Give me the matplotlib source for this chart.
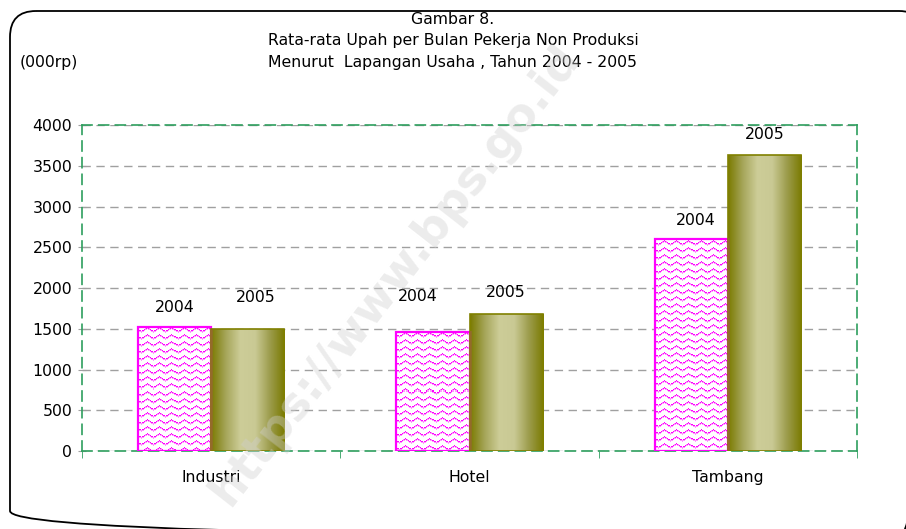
import numpy as np
import matplotlib
matplotlib.use('Agg')
import matplotlib.pyplot as plt
from matplotlib.patches import Rectangle, FancyBboxPatch
from matplotlib.colors import LinearSegmentedColormap

# data (000 rp)
categories = ['Industri', 'Hotel', 'Tambang']
years = ['2004', '2005']
upah_2004 = [1525, 1465, 2600]
upah_2005 = [1497, 1680, 3635]

plt.rcParams['font.family'] = ['DejaVu Sans']

fig = plt.figure(figsize=(9.06, 5.29), dpi=100)

# background axes in pixel units for the rounded frame
bg = fig.add_axes([0, 0, 1, 1], zorder=-1)
bg.set_xlim(0, 906)
bg.set_ylim(529, 0)
bg.axis('off')
bg.add_patch(FancyBboxPatch((10, 11), 915, 526,
                            boxstyle='round,pad=0,rounding_size=26',
                            fill=False, edgecolor='black', linewidth=1.3))

ax = fig.add_axes([0.0905, 0.1474, 0.8555, 0.6163])

x = np.arange(len(categories))
width = 0.283

ax.set_xlim(-0.5, 2.5)
ax.set_ylim(0, 4000)

olive = LinearSegmentedColormap.from_list(
    'olive', ['#7a7a00', '#a6a65a', '#cdcd98', '#c9c994', '#9c9c4c', '#7a7a00'])
grad = np.linspace(0, 1, 256).reshape(1, -1)

px_per_unit = 326 / 4000


def wave_texture(h_px, w_px):
    img = np.ones((h_px, w_px, 3))
    cols = np.arange(w_px)
    offs = np.round(1.6 * np.sin(2 * np.pi * cols / 12)).astype(int)
    for r0 in range(3, h_px, 7):
        for c in cols:
            r = r0 + offs[c]
            if 0 <= r < h_px:
                img[r, c] = [1.0, 0.0, 1.0] if c % 4 != 3 else [1.0, 0.55, 1.0]
            if 0 <= r + 1 < h_px:
                img[r + 1, c] = [1.0, 0.6, 1.0]
    return img


for i in range(len(categories)):
    # 2004 bar: white with magenta wave pattern
    x0 = x[i] - width
    v = upah_2004[i]
    rect = Rectangle((x0, 0), width, v, facecolor='white', edgecolor='none', zorder=3)
    ax.add_patch(rect)
    tex = wave_texture(max(int(round(v * px_per_unit)), 2), 73)
    im = ax.imshow(tex, extent=(x0, x0 + width, 0, v), aspect='auto',
                   interpolation='nearest', zorder=3, origin='upper')
    im.set_clip_path(rect)
    ax.add_patch(Rectangle((x0, 0), width, v, facecolor='none', edgecolor='#ff00ff',
                           linewidth=1.6, zorder=4))

    # 2005 bar: olive cylinder-like gradient
    x1 = x[i]
    v = upah_2005[i]
    rect2 = Rectangle((x1, 0), width, v, facecolor='none', edgecolor='#808000',
                      linewidth=1.2, zorder=4)
    ax.add_patch(rect2)
    im2 = ax.imshow(grad, extent=(x1, x1 + width, 0, v), aspect='auto',
                    cmap=olive, zorder=3)
    im2.set_clip_path(rect2)

ax.set_xlim(-0.5, 2.5)
ax.set_ylim(0, 4000)

# data labels (positions tuned per label like the original)
label_offsets_2004 = [(0, 19), (-15, 35), (4, 19)]
label_offsets_2005 = [(8, 32), (0, 22), (0, 20)]
for i in range(len(categories)):
    ax.annotate(years[0], (x[i] - width / 2, upah_2004[i]),
                xytext=label_offsets_2004[i], textcoords='offset pixels',
                ha='center', va='center', fontsize=11.3, zorder=6)
    ax.annotate(years[1], (x[i] + width / 2, upah_2005[i]),
                xytext=label_offsets_2005[i], textcoords='offset pixels',
                ha='center', va='center', fontsize=11.3, zorder=6)

# grid and axes styling
ax.set_yticks(np.arange(0, 4001, 500))
ax.yaxis.grid(True, color='#a0a0a0', linestyle=(0, (6, 4)), linewidth=1)
ax.set_axisbelow(True)
for s in ax.spines.values():
    s.set_color('#2e9e5e')
    s.set_linestyle((0, (6, 4)))
    s.set_linewidth(1.2)
ax.tick_params(axis='y', direction='inout', length=6, color='#a0a0a0',
               labelsize=11.3, pad=4)
ax.set_xticks(x)
ax.set_xticklabels(categories, fontsize=11.3)
ax.tick_params(axis='x', length=0, pad=14)
ax.set_xticks([-0.5, 0.5, 1.5, 2.5], minor=True)
ax.tick_params(axis='x', which='minor', length=5, color='#2e9e5e', direction='out')

# titles
fig.text(0.5, 1 - 19 / 529, 'Gambar 8.', ha='center', va='center', fontsize=11.3)
fig.text(0.5, 1 - 40 / 529, 'Rata-rata Upah per Bulan Pekerja Non Produksi',
         ha='center', va='center', fontsize=11.3)
fig.text(0.5, 1 - 62 / 529, 'Menurut  Lapangan Usaha , Tahun 2004 - 2005',
         ha='center', va='center', fontsize=11.3)
fig.text(20 / 906, 1 - 62 / 529, '(000rp)', ha='left', va='center', fontsize=11.3)

# watermark
fig.text(395 / 906, 1 - 275 / 529, 'https://www.bps.go.id', rotation=52,
         ha='center', va='center', fontsize=33, fontweight='bold',
         color='#d0d0d0', alpha=0.4, zorder=10)

fig.savefig('out.png', dpi=100)
